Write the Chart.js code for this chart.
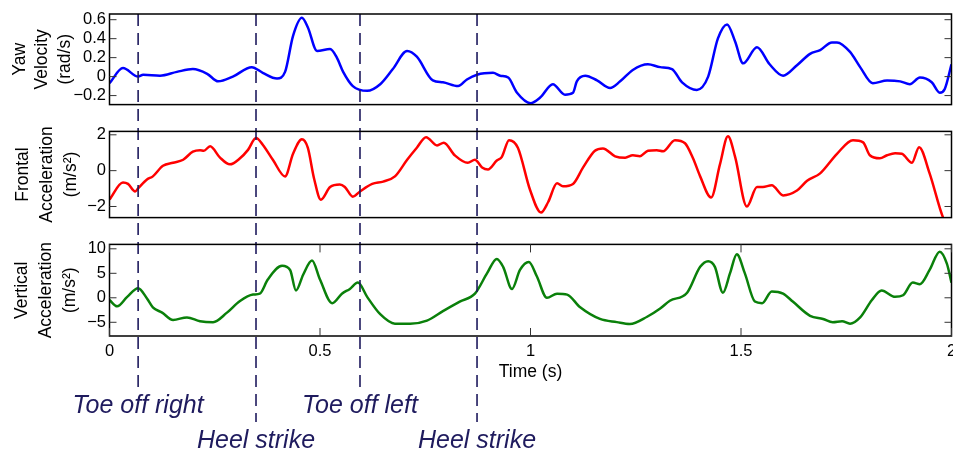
<!DOCTYPE html>
<html>
<head>
<meta charset="utf-8">
<script src="https://cdn.jsdelivr.net/npm/chart.js@4"></script>
<style>
body { margin: 0; background: #fff; width: 953px; height: 452px; overflow: hidden; position: relative; }
canvas { position: absolute; left: 0; }
</style>
</head>
<body>
<canvas id="yawChart" width="953" height="118" style="top:0px"></canvas>
<canvas id="frontChart" width="953" height="113" style="top:118px"></canvas>
<canvas id="vertChart" width="953" height="221" style="top:231px"></canvas>
<script>
// Gait sensor traces (time in seconds)
const yawTime = [0, 0.032, 0.068, 0.080, 0.120, 0.160, 0.198, 0.232, 0.258, 0.293,
    0.338, 0.364, 0.398, 0.417, 0.436, 0.457, 0.471, 0.493, 0.524, 0.540,
    0.555, 0.578, 0.612, 0.643, 0.673, 0.707, 0.730, 0.768, 0.792, 0.828,
    0.849, 0.873, 0.911, 0.928, 0.947, 0.968, 1.000, 1.023, 1.053, 1.082,
    1.101, 1.110, 1.130, 1.158, 1.189, 1.213, 1.243, 1.279, 1.308, 1.336,
    1.360, 1.395, 1.422, 1.445, 1.467, 1.486, 1.505, 1.538, 1.568, 1.600,
    1.633, 1.664, 1.688, 1.716, 1.728, 1.759, 1.783, 1.813, 1.847, 1.878,
    1.901, 1.925, 1.953, 1.972, 1.984, 2.000];
const yawVelocity = [-0.07, 0.09, 0.0, 0.02, 0.01, 0.05, 0.08, 0.03, -0.05, 0.0,
    0.10, 0.04, -0.02, 0.05, 0.43, 0.62, 0.52, 0.27, 0.29, 0.20,
    0.05, -0.10, -0.15, -0.08, 0.08, 0.27, 0.21, -0.04, -0.06, -0.10,
    -0.03, 0.02, 0.04, 0.01, -0.01, -0.17, -0.28, -0.22, -0.08, -0.19,
    -0.17, -0.05, 0.01, -0.04, -0.12, -0.05, 0.07, 0.13, 0.10, 0.08,
    -0.06, -0.14, 0.0, 0.40, 0.55, 0.37, 0.14, 0.31, 0.13, 0.01,
    0.12, 0.24, 0.28, 0.36, 0.36, 0.26, 0.10, -0.07, -0.04, -0.05,
    -0.08, -0.01, -0.06, -0.17, -0.13, 0.13];

const frontTime = [0, 0.032, 0.044, 0.061, 0.068, 0.089, 0.103, 0.127, 0.151, 0.175,
    0.198, 0.215, 0.224, 0.239, 0.262, 0.286, 0.310, 0.329, 0.348, 0.364,
    0.388, 0.417, 0.436, 0.457, 0.471, 0.486, 0.502, 0.524, 0.547, 0.559,
    0.578, 0.595, 0.624, 0.650, 0.678, 0.707, 0.730, 0.752, 0.778, 0.794,
    0.820, 0.851, 0.868, 0.885, 0.899, 0.920, 0.932, 0.949, 0.970, 0.999,
    1.025, 1.042, 1.063, 1.077, 1.101, 1.125, 1.153, 1.172, 1.201, 1.225,
    1.243, 1.260, 1.279, 1.300, 1.315, 1.343, 1.367, 1.386, 1.403, 1.429,
    1.450, 1.469, 1.486, 1.514, 1.538, 1.552, 1.573, 1.600, 1.633, 1.657,
    1.688, 1.728, 1.766, 1.790, 1.806, 1.830, 1.847, 1.866, 1.882, 1.906,
    1.923, 1.948, 1.980, 1.995];
const frontAccel = [-1.61, -0.66, -0.74, -1.16, -0.99, -0.49, -0.32, 0.27, 0.44, 0.61,
    1.06, 1.14, 1.11, 1.36, 0.74, 0.35, 0.69, 1.16, 1.82, 1.45,
    0.61, -0.32, 0.94, 1.75, 1.28, -0.45, -1.62, -0.91, -0.77, -0.91,
    -1.45, -1.16, -0.74, -0.61, -0.32, 0.61, 1.28, 1.87, 1.41, 1.56,
    0.86, 0.44, 0.61, 0.18, 0.07, 0.57, 0.77, 1.70, 1.28, -1.08,
    -2.34, -1.75, -0.71, -0.87, -0.74, 0.18, 1.11, 1.24, 0.80, 0.72,
    0.86, 0.81, 1.11, 1.14, 1.08, 1.70, 1.53, 0.69, -0.32, -1.50,
    0.35, 1.92, 0.77, -2.00, -0.91, -0.91, -0.82, -1.38, -1.11, -0.57,
    -0.15, 0.94, 1.70, 1.58, 0.86, 0.69, 0.86, 0.97, 0.94, 0.44,
    1.31, -0.15, -2.62, -3.20];

const vertTime = [0, 0.018, 0.042, 0.068, 0.089, 0.103, 0.125, 0.151, 0.184, 0.215,
    0.246, 0.279, 0.310, 0.341, 0.357, 0.376, 0.410, 0.429, 0.443, 0.460,
    0.481, 0.500, 0.529, 0.552, 0.571, 0.590, 0.612, 0.643, 0.678, 0.714,
    0.754, 0.792, 0.832, 0.868, 0.897, 0.920, 0.935, 0.956, 0.975, 0.996,
    1.015, 1.039, 1.063, 1.087, 1.118, 1.165, 1.205, 1.236, 1.277, 1.308,
    1.331, 1.372, 1.403, 1.422, 1.438, 1.457, 1.474, 1.490, 1.509, 1.533,
    1.550, 1.573, 1.600, 1.623, 1.664, 1.695, 1.718, 1.740, 1.759, 1.783,
    1.811, 1.834, 1.866, 1.885, 1.908, 1.925, 1.948, 1.972, 1.989, 2.000];
const vertAccel = [-0.45, -1.74, 0.19, 1.94, -0.13, -1.94, -3.03, -4.52, -4.00, -4.77,
    -4.97, -3.03, -0.65, 0.65, 0.84, 3.74, 6.52, 5.68, 1.48, 4.71,
    7.61, 3.74, -1.10, 0.84, 1.81, 3.10, 0.19, -3.35, -5.29, -5.29,
    -4.65, -2.71, -0.77, 0.84, 5.03, 7.94, 6.32, 1.81, 5.68, 7.29,
    4.39, 0.00, 0.84, 0.65, -1.94, -4.32, -4.97, -5.35, -3.87, -2.19,
    -0.60, 1.03, 6.32, 7.48, 6.32, 1.03, 5.03, 8.90, 5.03, -0.77,
    -1.10, 1.29, 0.84, -0.77, -3.68, -4.32, -4.97, -4.77, -5.29, -4.00,
    -0.45, 1.48, 0.19, 0.52, 3.10, 2.77, 5.68, 9.42, 6.97, 3.10];

// gait events
const eventTimes = [0.068, 0.348, 0.595, 0.873];
const eventLabels = ['Toe off right', 'Heel strike', 'Toe off left', 'Heel strike'];
const eventRow = [0, 1, 0, 1];

const xTicks = [0, 0.5, 1, 1.5, 2];
const yawTicks = [-0.2, 0, 0.2, 0.4, 0.6];
const frontTicks = [-2, 0, 2];
const vertTicks = [-5, 0, 5, 10];

const FONT = "'Liberation Sans', Arial, Helvetica, sans-serif";
const EVENT_COLOR = '#1f1b5e';
const DASH = [12, 7];

// box, inward tick marks, event lines and labels
const panelFrame = {
    id: 'panelFrame',
    afterDatasetsDraw(chart, args, opts) {
        const { ctx, chartArea: a, scales } = chart;
        ctx.save();

        ctx.strokeStyle = EVENT_COLOR;
        ctx.lineWidth = 1.6;
        ctx.setLineDash(DASH);
        const period = DASH[0] + DASH[1];
        eventTimes.forEach((t, i) => {
            const x = scales.x.getPixelForValue(t);
            const y0 = opts.fromTop ? a.top : 0;
            const y1 = opts.lineEnds ? opts.lineEnds[eventRow[i]] : chart.height;
            ctx.lineDashOffset = ((opts.pageY + y0 - 14) % period + period) % period;
            ctx.beginPath();
            ctx.moveTo(x, y0);
            ctx.lineTo(x, y1);
            ctx.stroke();
        });
        ctx.setLineDash([]);

        ctx.strokeStyle = '#000';
        ctx.lineWidth = 1.5;
        ctx.strokeRect(a.left, a.top, a.right - a.left, a.bottom - a.top);

        ctx.strokeStyle = '#333';
        ctx.lineWidth = 1;
        ctx.beginPath();
        scales.y.ticks.forEach(t => {
            const y = scales.y.getPixelForValue(t.value);
            ctx.moveTo(a.left, y); ctx.lineTo(a.left + 7, y);
            ctx.moveTo(a.right, y); ctx.lineTo(a.right - 7, y);
        });
        if (opts.xTicks) {
            scales.x.ticks.forEach(t => {
                const x = scales.x.getPixelForValue(t.value);
                ctx.moveTo(x, a.bottom); ctx.lineTo(x, a.bottom - 8);
                ctx.moveTo(x, a.top); ctx.lineTo(x, a.top + 8);
            });
        }
        ctx.stroke();

        if (opts.labelRows) {
            ctx.font = 'italic 25px ' + FONT;
            ctx.fillStyle = EVENT_COLOR;
            ctx.textAlign = 'center';
            ctx.textBaseline = 'middle';
            eventTimes.forEach((t, i) => {
                ctx.fillText(eventLabels[i], scales.x.getPixelForValue(t), opts.labelRows[eventRow[i]]);
            });
        }
        ctx.restore();
    }
};

function makePanel(id, times, values, color, p) {
    const showX = !!p.showX;
    return new Chart(document.getElementById(id), {
        type: 'line',
        data: {
            datasets: [{
                data: times.map((t, i) => ({ x: t, y: values[i] })),
                borderColor: color,
                borderWidth: 2.5,
                pointRadius: 0,
                cubicInterpolationMode: 'monotone',
                fill: false
            }]
        },
        options: {
            responsive: false,
            animation: false,
            devicePixelRatio: 1,
            layout: { padding: { top: p.padTop, bottom: p.padBottom, left: 0, right: 1.5 } },
            plugins: {
                legend: { display: false },
                tooltip: { enabled: false },
                panelFrame: p.frame
            },
            scales: {
                x: {
                    type: 'linear',
                    min: 0,
                    max: 2,
                    display: showX,
                    afterBuildTicks: s => { s.ticks = xTicks.map(v => ({ value: v })); },
                    afterFit: s => {
                        if (showX) s.height = 50;
                        s.paddingLeft = 0;
                        s.paddingRight = 0;
                    },
                    grid: { display: false, drawTicks: false },
                    border: { display: false },
                    ticks: { padding: 6, color: '#000', autoSkip: false, maxRotation: 0,
                        font: { family: FONT, size: 16.5 },
                        callback: v => String(v) },
                    title: { display: true, text: 'Time (s)', color: '#000',
                        font: { family: FONT, size: 17.5 }, padding: { top: 0, bottom: 3.5 } }
                },
                y: {
                    min: p.min,
                    max: p.max,
                    afterBuildTicks: s => { s.ticks = p.ticks.map(v => ({ value: v })); },
                    afterFit: s => { s.width = 109.5; },
                    grid: { display: false, drawTicks: false },
                    border: { display: false },
                    ticks: {
                        padding: 3.5,
                        color: '#000',
                        autoSkip: false,
                        font: { family: FONT, size: 16.5 },
                        callback: v => String(v).replace('-', '\u2212')
                    },
                    title: {
                        display: true,
                        text: p.title,
                        color: '#000',
                        font: { family: FONT, size: 17.5, lineHeight: p.titleLine },
                        padding: { top: p.titlePad, bottom: 0 }
                    }
                }
            }
        },
        plugins: [panelFrame]
    });
}

makePanel('yawChart', yawTime, yawVelocity, '#0000ff', {
    min: -0.295, max: 0.66, ticks: yawTicks,
    title: ['Yaw', 'Velocity', '(rad/s)'], titleLine: '22.5px', titlePad: 8.75,
    padTop: 14, padBottom: 8.7,
    frame: { fromTop: true, pageY: 0 }
});

makePanel('frontChart', frontTime, frontAccel, '#ff0000', {
    min: -2.62, max: 2.19, ticks: frontTicks,
    title: ['Frontal', 'Acceleration', '(m/s\u00b2)'], titleLine: '24px', titlePad: 11,
    padTop: 9, padBottom: 8.7,
    frame: { pageY: 118 }
});

makePanel('vertChart', vertTime, vertAccel, '#0a800a', {
    min: -7.8, max: 10.9, ticks: vertTicks,
    title: ['Vertical', 'Acceleration', '(m/s\u00b2)'], titleLine: '24px', titlePad: 10,
    padTop: 9, padBottom: 66, showX: true,
    frame: { pageY: 231, xTicks: true, lineEnds: [158, 191], labelRows: [175, 210] }
});
</script>
</body>
</html>
